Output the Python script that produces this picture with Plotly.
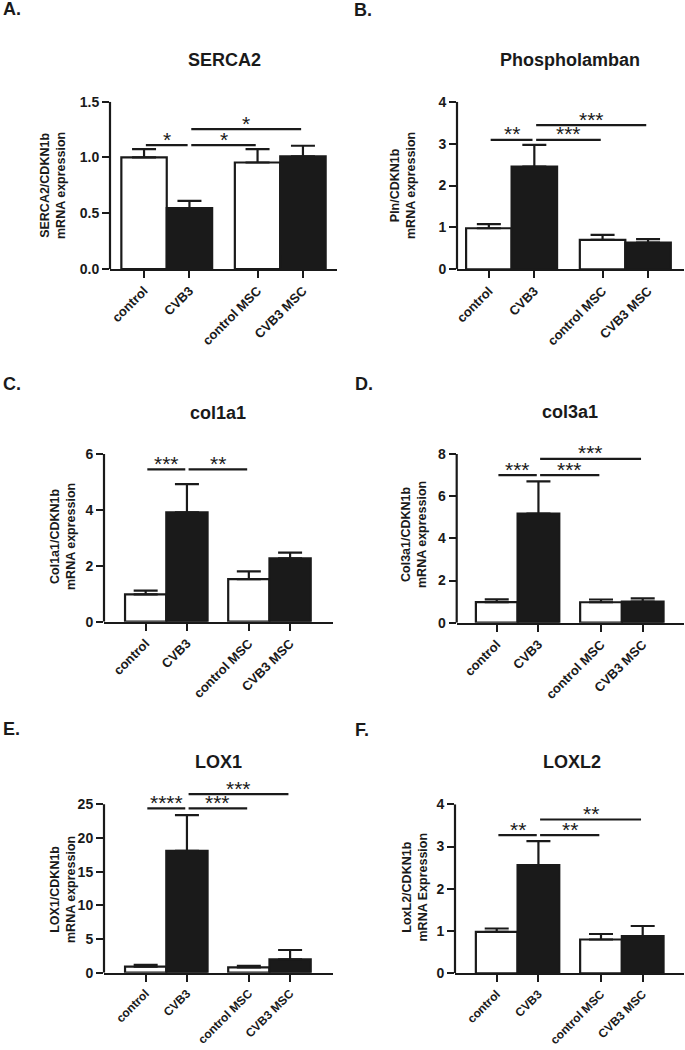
import plotly.graph_objects as go

W, H = 685, 1050

# ---------------- data ----------------
categories = ["control", "CVB3", "control MSC", "CVB3 MSC"]
bar_fill = ["white", "#1a1a1a", "white", "#1a1a1a"]

titles = ["SERCA2", "Phospholamban", "col1a1", "col3a1", "LOX1", "LOXL2"]
letters = ["A.", "B.", "C.", "D.", "E.", "F."]
ylabels = [
    "SERCA2/CDKN1b<br>mRNA expression",
    "Pln/CDKN1b<br>mRNA expression",
    "Col1a1/CDKN1b<br>mRNA expression",
    "Col3a1/CDKN1b<br>mRNA expression",
    "LOX1/CDKN1b<br>mRNA expression",
    "LoxL2/CDKN1b<br>mRNA Expression",
]

serca2_mean = [1.00, 0.545, 0.955, 1.01]
serca2_sem = [0.075, 0.065, 0.12, 0.095]
pln_mean = [0.98, 2.45, 0.70, 0.635]
pln_sem = [0.10, 0.52, 0.12, 0.085]
col1a1_mean = [0.98, 3.91, 1.52, 2.27]
col1a1_sem = [0.13, 1.01, 0.28, 0.20]
col3a1_mean = [0.98, 5.17, 0.97, 1.00]
col3a1_sem = [0.13, 1.53, 0.13, 0.15]
lox1_mean = [0.90, 18.1, 0.80, 2.00]
lox1_sem = [0.25, 5.3, 0.20, 1.37]
loxl2_mean = [0.98, 2.56, 0.80, 0.88]
loxl2_sem = [0.08, 0.57, 0.13, 0.24]

means = [serca2_mean, pln_mean, col1a1_mean, col3a1_mean, lox1_mean, loxl2_mean]
sems = [serca2_sem, pln_sem, col1a1_sem, col3a1_sem, lox1_sem, loxl2_sem]

yticks_A = [0, 0.5, 1.0, 1.5]
yticks_B = [0, 1, 2, 3, 4]
yticks_C = [0, 2, 4, 6]
yticks_D = [0, 2, 4, 6, 8]
yticks_E = [0, 5, 10, 15, 20, 25]
yticks_F = [0, 1, 2, 3, 4]
yticks = [yticks_A, yticks_B, yticks_C, yticks_D, yticks_E, yticks_F]
ytickfmt = ["{:.1f}", "{:d}", "{:d}", "{:d}", "{:d}", "{:d}"]

# significance comparisons: (group a, group b, height, label)
sig_A = [(0, 1, 1.11, "*"), (1, 2, 1.11, "*"), (1, 3, 1.255, "*")]
sig_B = [(0, 1, 3.09, "**"), (1, 2, 3.09, "***"), (1, 3, 3.44, "***")]
sig_C = [(0, 1, 5.45, "***"), (1, 2, 5.45, "**")]
sig_D = [(0, 1, 7.0, "***"), (1, 2, 7.0, "***"), (1, 3, 7.77, "***")]
sig_E = [(0, 1, 24.4, "****"), (1, 2, 24.4, "***"), (1, 3, 26.5, "***")]
sig_F = [(0, 1, 3.27, "**"), (1, 2, 3.27, "**"), (1, 3, 3.64, "**")]
sigs = [sig_A, sig_B, sig_C, sig_D, sig_E, sig_F]

# ---------------- layout geometry (pixels) ----------------
group_pos = [0, 1, 2.5, 3.5]
# left, right, top-tick px, zero px, x range
geom = [
    (110, 337, 101.7, 269.0, [-0.75, 4.25]),
    (457, 684, 101.7, 269.3, [-0.70, 4.29]),
    (104, 333, 454.0, 621.7, [-1.01, 4.54]),
    (456.7, 684, 454.0, 622.7, [-0.96, 4.49]),
    (104, 333, 804.3, 972.7, [-1.01, 4.54]),
    (455, 684, 804.3, 973.3, [-1.00, 4.49]),
]
xtick_size = [13, 13, 13, 13, 12, 12]
title_pos = [(224, 60), (570, 60), (218, 413), (570, 412), (218, 762), (572, 762)]
letter_pos = [(1, 9), (352, 10), (1, 384), (353, 384), (1, 729), (353, 730)]
ylabel_pos = [(53, 186), (403, 186), (63, 536), (414, 535), (63, 889), (414.5, 887)]

INK = "#1a1a1a"
FONT = "Liberation Sans, Arial, sans-serif"
gap = 0.04


def px_x(p):
    return p / W


def px_y(p):
    return 1 - p / H


fig = go.Figure()
layout = dict(
    width=W, height=H, margin=dict(l=0, r=0, t=0, b=0, autoexpand=False),
    paper_bgcolor="white", plot_bgcolor="white", showlegend=False,
    font=dict(family=FONT, color=INK),
)
shapes = []
annotations = []

for k in range(6):
    n = "" if k == 0 else str(k + 1)
    xa, ya = "x" + n, "y" + n
    L, R, toppx, zeropx, xr = geom[k]
    top_tick = yticks[k][-1]
    max_sig = max(s[2] for s in sigs[k])
    rtop = max(top_tick, max_sig * 1.02)
    dom_top_px = zeropx - (zeropx - toppx) * rtop / top_tick

    fig.add_trace(go.Bar(
        x=group_pos, y=means[k], width=1.0,
        marker=dict(color=bar_fill, line=dict(color=INK, width=2.2)),
        error_y=dict(type="data", symmetric=False, array=sems[k],
                     arrayminus=[0] * len(sems[k]), color=INK, thickness=2.2, width=12),
        xaxis=xa, yaxis=ya, hoverinfo="skip",
    ))
    for (a, b, h, lab) in sigs[k]:
        fig.add_trace(go.Scatter(
            x=[group_pos[a] + gap, group_pos[b] - gap], y=[h, h], mode="lines",
            line=dict(color=INK, width=2.2), xaxis=xa, yaxis=ya, hoverinfo="skip",
        ))
        annotations.append(dict(
            x=(group_pos[a] + group_pos[b]) / 2, y=h, xref=xa, yref=ya,
            text=lab, showarrow=False, yanchor="middle", yshift=6,
            font=dict(size=21, family=FONT, color=INK),
        ))

    layout["xaxis" + n] = dict(
        domain=[px_x(L), px_x(R)], range=xr, anchor=ya, automargin=False,
        tickmode="array", tickvals=group_pos,
        ticktext=["<b>%s</b>" % c for c in categories],
        tickangle=-45, ticks="outside", ticklen=7, tickwidth=2.2, tickcolor=INK,
        showline=True, linewidth=2.2, linecolor=INK, showgrid=False, zeroline=False,
        tickfont=dict(size=xtick_size[k], family=FONT, color=INK),
        fixedrange=True,
    )
    layout["yaxis" + n] = dict(
        domain=[px_y(zeropx), px_y(dom_top_px)], range=[0, rtop], anchor=xa,
        automargin=False,
        tickmode="array", tickvals=yticks[k],
        ticktext=["<b>%s</b>" % ytickfmt[k].format(v) for v in yticks[k]],
        ticks="outside", ticklen=7, tickwidth=2.2, tickcolor=INK,
        showline=False, showgrid=False, zeroline=False,
        tickfont=dict(size=14, family=FONT, color=INK),
        ticklabelstandoff=0, fixedrange=True,
    )
    # y-axis line only up to the top tick
    shapes.append(dict(
        type="line", xref=xa + " domain", yref=ya, x0=0, x1=0, y0=0, y1=top_tick,
        line=dict(color=INK, width=2.2),
    ))

    tx, ty = title_pos[k]
    annotations.append(dict(
        x=px_x(tx), y=px_y(ty), xref="paper", yref="paper", text="<b>%s</b>" % titles[k],
        showarrow=False, xanchor="center", yanchor="middle",
        font=dict(size=18, family=FONT, color=INK),
    ))
    lx, ly = letter_pos[k]
    annotations.append(dict(
        x=px_x(lx), y=px_y(ly), xref="paper", yref="paper", text="<b>%s</b>" % letters[k],
        showarrow=False, xanchor="left", yanchor="middle",
        font=dict(size=18, family=FONT, color=INK),
    ))
    yx, yy = ylabel_pos[k]
    annotations.append(dict(
        x=px_x(yx), y=px_y(yy), xref="paper", yref="paper", text="<b>%s</b>" % ylabels[k],
        showarrow=False, xanchor="center", yanchor="middle", textangle=-90,
        font=dict(size=12.5, family=FONT, color=INK),
    ))

layout["shapes"] = shapes
layout["annotations"] = annotations
fig.update_layout(**layout)

fig.write_html(
    "out.html",
    config={"displayModeBar": False},
    post_script="}); document.body.style.margin='0px'; document.body.style.overflow='hidden'; (function(){",
)
